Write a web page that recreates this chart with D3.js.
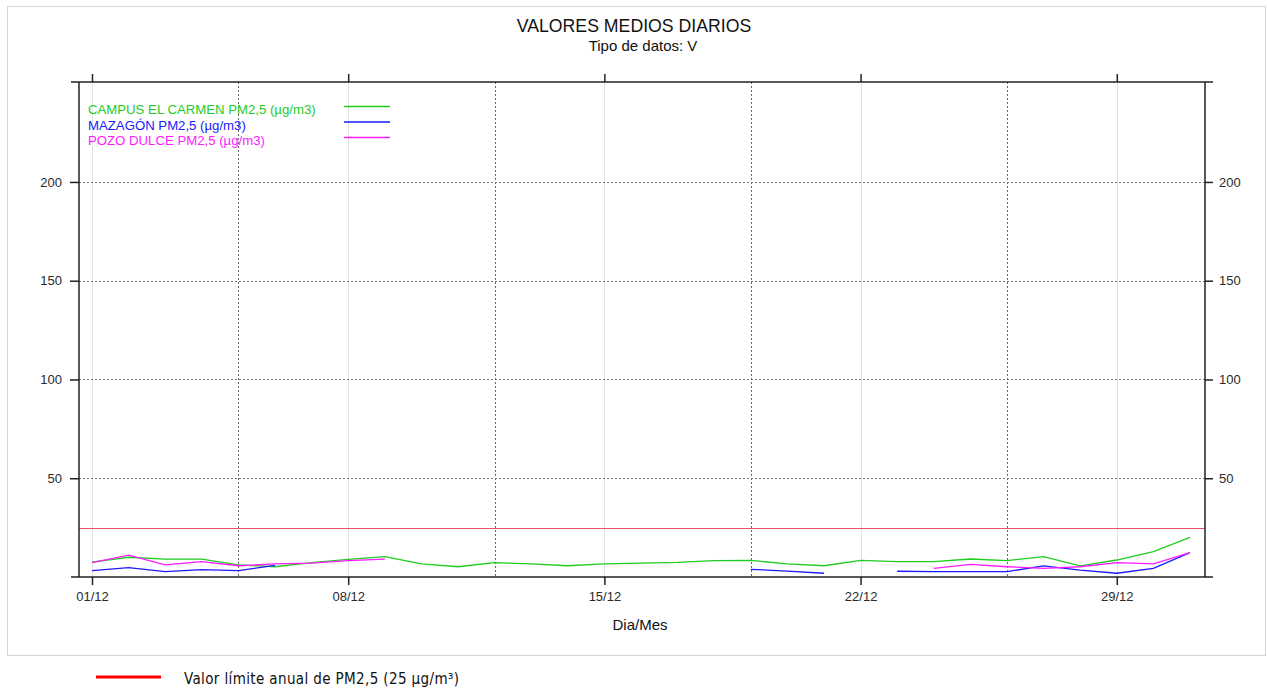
<!DOCTYPE html>
<html>
<head>
<meta charset="utf-8">
<script src="https://cdn.jsdelivr.net/npm/d3@7"></script>
<style>
body { margin: 0; background: #fff; }
svg text { font-family: "Liberation Sans", Arial, sans-serif; }
</style>
</head>
<body>
<div id="chart"></div>
<script>
// days of december
var days = d3.range(1, 32);
var tickDays = [1, 8, 15, 22, 29];
var tickLabels = ["01/12", "08/12", "15/12", "22/12", "29/12"];
var weekDays = [5, 12, 19, 26];
var yTicks = [50, 100, 150, 200];
var limitValue = 25;

// null = no data
var campus = [7.5, 10.0, 9.1, 9.1, 6.1, 5.2, 7.3, 8.9, 10.3, 6.6, 5.2, 7.3, 6.6, 5.7, 6.6, 7.0,
              7.4, 8.3, 8.4, 6.6, 5.7, 8.4, 7.8, 7.8, 9.1, 8.3, 10.3, 5.6, 8.6, 12.8, 20.1];
var mazagon = [3.2, 4.7, 2.7, 3.7, 3.2, 5.9, null, null, null, null, null, null, null, null, null, null,
               null, null, 3.9, 3.0, 1.9, null, 2.9, 2.7, 2.7, 2.7, 5.6, 3.5, 1.9, 4.4, 12.3];
var pozo = [7.3, 11.1, 6.1, 7.8, 5.7, 6.6, 7.0, 8.3, 9.1, null, null, null, null, null, null, null,
            null, null, null, null, null, null, null, 4.4, 6.4, 5.2, 4.4, 5.2, 7.3, 6.6, 12.3];

var seriesNames = ["CAMPUS EL CARMEN PM2,5 (µg/m3)", "MAZAGÓN PM2,5 (µg/m3)", "POZO DULCE PM2,5 (µg/m3)"];
var seriesColors = ["#1fcc1f", "#1a1aff", "#ff1aff"];
var seriesData = [campus, mazagon, pozo];

var width = 1267;
var height = 691;

var svg = d3.select("#chart").append("svg")
    .attr("width", width)
    .attr("height", height);

// outer border
svg.append("rect")
    .attr("x", 7.5).attr("y", 6.5)
    .attr("width", 1258).attr("height", 649)
    .attr("fill", "none")
    .attr("stroke", "#d4d4d4");

var x = d3.scaleLinear()
    .domain([0.645, 31.41])
    .range([79, 1205]);

var y = d3.scaleLinear()
    .domain([0, 250.6])
    .range([577, 82]);

//grid
svg.append("g").selectAll("line")
    .data(tickDays)
    .enter().append("line")
    .attr("x1", d => Math.round(x(d)) + 0.5).attr("x2", d => Math.round(x(d)) + 0.5)
    .attr("y1", 82).attr("y2", 577)
    .attr("stroke", "#e2e2e2");

svg.append("g").selectAll("line")
    .data(weekDays)
    .enter().append("line")
    .attr("x1", d => Math.round(x(d)) + 0.5).attr("x2", d => Math.round(x(d)) + 0.5)
    .attr("y1", 82).attr("y2", 577)
    .attr("stroke", "#666")
    .attr("stroke-dasharray", "2,2");

svg.append("g").selectAll("line")
    .data(yTicks)
    .enter().append("line")
    .attr("x1", 79).attr("x2", 1205)
    .attr("y1", d => Math.round(y(d)) + 0.5).attr("y2", d => Math.round(y(d)) + 0.5)
    .attr("stroke", "#777")
    .attr("stroke-dasharray", "2,2");

// limit line
svg.append("line")
    .attr("x1", 79).attr("x2", 1205)
    .attr("y1", Math.round(y(limitValue)) + 0.5).attr("y2", Math.round(y(limitValue)) + 0.5)
    .attr("stroke", "#e8506a")
    .attr("stroke-width", 1.2);

// series
var line = d3.line()
    .defined(d => d != null)
    .x((d, i) => x(days[i]))
    .y(d => y(d));

svg.append("g").selectAll("path")
    .data(seriesData)
    .enter().append("path")
    .attr("d", line)
    .attr("fill", "none")
    .attr("stroke", (d, i) => seriesColors[i])
    .attr("stroke-width", 1.3);

// axes
var xAxis = d3.axisBottom(x)
    .tickValues(tickDays)
    .tickFormat((d, i) => tickLabels[i])
    .tickSize(8)
    .tickPadding(7)
    .tickSizeOuter(0);
var xAxisTop = d3.axisTop(x)
    .tickValues(tickDays)
    .tickFormat("")
    .tickSize(8)
    .tickSizeOuter(0);
var yAxis = d3.axisLeft(y)
    .tickValues(yTicks)
    .tickSize(9)
    .tickPadding(8)
    .tickSizeOuter(0);
var yAxisRight = d3.axisRight(y)
    .tickValues(yTicks)
    .tickSize(8)
    .tickPadding(6)
    .tickSizeOuter(0);

function styleAxis(g) {
    g.select(".domain").remove();
    g.selectAll(".tick line").attr("stroke", "#222").attr("stroke-width", 1.5);
    g.selectAll(".tick text").attr("fill", "#2a2a2a").style("font-size", "13px")
        .style("font-family", "'Liberation Sans', Arial, sans-serif");
}

svg.append("g").attr("transform", "translate(0,577)").call(xAxis).call(styleAxis);
svg.append("g").attr("transform", "translate(0,82)").call(xAxisTop).call(styleAxis);
svg.append("g").attr("transform", "translate(79,0)").call(yAxis).call(styleAxis);
svg.append("g").attr("transform", "translate(1205,0)").call(yAxisRight).call(styleAxis);

// frame lines, a bit longer than the box
var frame = svg.append("g").attr("stroke", "#222").attr("stroke-width", 1.5);
frame.append("line").attr("x1", 71).attr("x2", 1213).attr("y1", 82).attr("y2", 82);
frame.append("line").attr("x1", 71).attr("x2", 1213).attr("y1", 577).attr("y2", 577);
frame.append("line").attr("x1", 79).attr("x2", 79).attr("y1", 82).attr("y2", 577);
frame.append("line").attr("x1", 1205).attr("x2", 1205).attr("y1", 82).attr("y2", 577);

// titles
svg.append("text")
    .attr("x", 634).attr("y", 32)
    .attr("text-anchor", "middle")
    .style("font-size", "17.7px")
    .attr("fill", "#111")
    .text("VALORES MEDIOS DIARIOS");
svg.append("text")
    .attr("x", 643).attr("y", 51)
    .attr("text-anchor", "middle")
    .style("font-size", "15px")
    .attr("fill", "#111")
    .text("Tipo de datos: V");
svg.append("text")
    .attr("x", 640).attr("y", 630)
    .attr("text-anchor", "middle")
    .style("font-size", "15px")
    .attr("fill", "#111")
    .text("Dia/Mes");

// legend
var legend = svg.append("g").selectAll("g")
    .data(seriesNames)
    .enter().append("g")
    .attr("transform", (d, i) => "translate(0," + (i * 15.5) + ")");
legend.append("text")
    .attr("x", 88).attr("y", 114)
    .style("font-size", "13.2px")
    .attr("fill", (d, i) => seriesColors[i])
    .text(d => d);
legend.append("line")
    .attr("x1", 344).attr("x2", 390)
    .attr("y1", 106.5).attr("y2", 106.5)
    .attr("stroke", (d, i) => seriesColors[i])
    .attr("stroke-width", 1.3);

// bottom legend for the limit
svg.append("line")
    .attr("x1", 96).attr("x2", 161)
    .attr("y1", 677).attr("y2", 677)
    .attr("stroke", "#ff0000")
    .attr("stroke-width", 3);
svg.append("text")
    .attr("x", 184).attr("y", 684)
    .style("font-family", "'Liberation Sans Narrow', 'DejaVu Sans Condensed', sans-serif")
    .style("font-size", "15px")
    .attr("fill", "#111")
    .attr("textLength", 275)
    .text("Valor límite anual de PM2,5  (25 µg/m³)");
</script>
</body>
</html>
